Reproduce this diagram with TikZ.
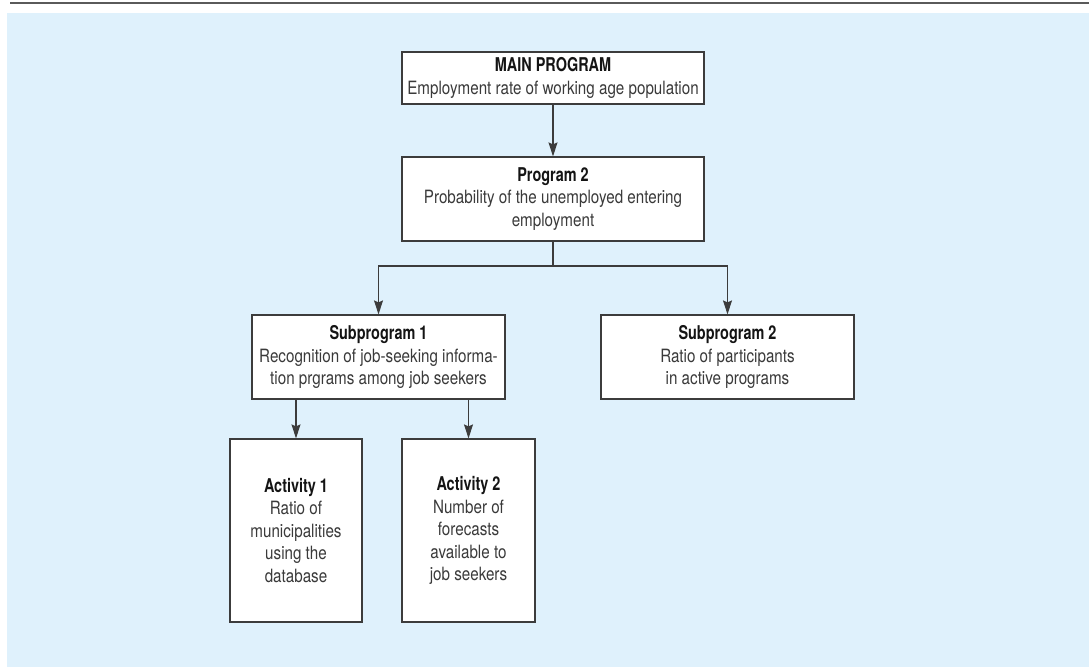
\documentclass[tikz,border=0pt]{standalone}
\usepackage{fontspec}
\setmainfont{TeX Gyre Heros}[FakeStretch=0.83]
\newfontfamily\headfont{TeX Gyre Heros}[FakeStretch=0.76]
\usetikzlibrary{arrows.meta}
\definecolor{panelblue}{HTML}{DFF1FC}
\definecolor{rulegray}{HTML}{5A5A5A}
\definecolor{boxline}{HTML}{3C3C3C}
\definecolor{bodytext}{HTML}{3A3A3A}
\tikzset{
  box/.style={draw=boxline, line width=1.2pt, fill=white, align=center,
    inner sep=2pt, text=bodytext,
    font=\fontsize{18.3}{22.5}\selectfont},
  link/.style={draw=boxline, line width=1.1pt,
    -{Stealth[length=14pt, width=9pt, inset=2pt]}},
  plain/.style={draw=boxline, line width=1.1pt},
}
\newcommand{\hd}[1]{{\headfont\bfseries\fontsize{19}{22.5}\selectfont\color{black!92}#1}}
\begin{document}
\begin{tikzpicture}[x=1pt, y=-1pt]
  \useasboundingbox (0,0) rectangle (1089,667);
  % header rule and shaded panel
  \draw[rulegray, line width=2pt] (10,3) -- (1089,3);
  \fill[panelblue] (7,13) rectangle (1089,667);

  % boxes
  \node[box, minimum width=302pt, minimum height=52pt] (main) at (553,78)
    {\hd{MAIN PROGRAM}\\Employment rate of working age population};
  \node[box, minimum width=302pt, minimum height=84pt] (p2) at (553,199)
    {\hd{Program 2}\\Probability of the unemployed entering\\employment};
  \node[box, minimum width=253pt, minimum height=84pt] (sub1) at (378.5,357)
    {\hd{Subprogram 1}\\Recognition of job-seeking informa-\\tion prgrams among job seekers};
  \node[box, minimum width=253pt, minimum height=84pt] (sub2) at (727.5,357)
    {\hd{Subprogram 2}\\Ratio of participants\\in active programs};
  \node[box, minimum width=132pt, minimum height=183pt] (act1) at (296,530.5)
    {\hd{Activity 1}\\Ratio of\\municipalities\\using the\\database};
  \node[box, minimum width=133pt, minimum height=183pt] (act2) at (468.5,530.5)
    {\hd{Activity 2}\\Number of\\forecasts\\available to\\job seekers};

  % connectors
  \coordinate (split) at (553,266);
  \draw[link] (main) -- (p2);
  \draw[plain] (p2.south) -- (split);
  \draw[link] (split) -| (sub1.north);
  \draw[link] (split) -| (sub2.north);
  \draw[link] (act1.north |- sub1.south) -- (act1.north);
  \draw[link] (act2.north |- sub1.south) -- (act2.north);
\end{tikzpicture}
\end{document}
